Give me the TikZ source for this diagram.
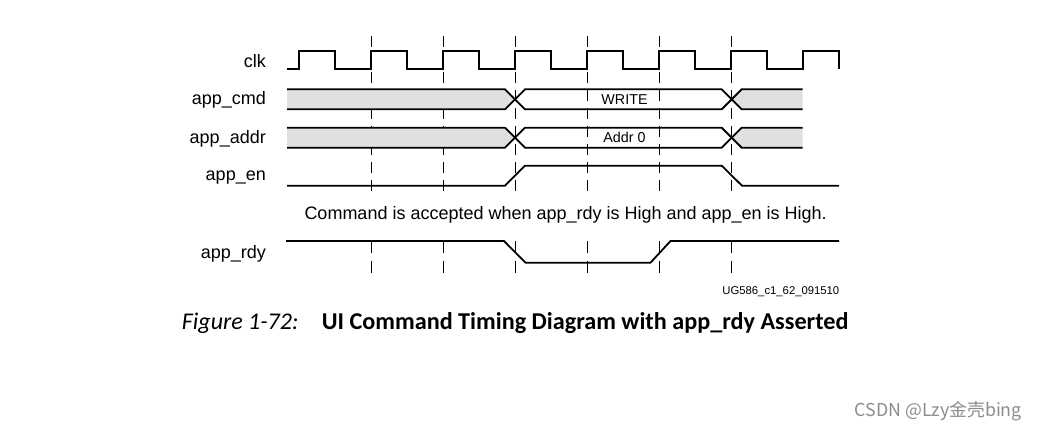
\documentclass[tikz,border=0pt]{standalone}
\usepackage{fontspec}
\setmainfont{Liberation Sans}
\newfontfamily\capfont{Carlito}
\newfontfamily\cjkfont{Noto Sans CJK SC}
\begin{document}
\begin{tikzpicture}[x=1pt,y=-1pt,
  sig/.style={line width=1.8pt,line join=miter,line cap=butt},
  grid/.style={line width=0.9pt,black},
  band/.style={fill=black!12,draw=none},
  lbl/.style={anchor=east,inner sep=0pt,font=\fontsize{18}{20}\selectfont},
  val/.style={inner sep=0pt,font=\fontsize{14.3}{16}\selectfont},
]
\useasboundingbox (0,0) rectangle (1039,430);
\fill[white] (0,0) rectangle (1039,430);

% dashed clock-edge markers
\foreach \xx in {371,443,515,587,659,731}{
  \draw[grid,dash pattern=on 11pt off 7pt] (\xx,36) -- (\xx,192);
  \draw[grid,dash pattern=on 12pt off 8pt] (\xx,241) -- (\xx,274);
}

% labels
\node[lbl] (lclk)  at (266,61)  {clk};
\node[lbl] (lcmd)  at (266,100) {app\_cmd};
\node[lbl] (laddr) at (266,138.5) {app\_addr};
\node[lbl] (len)   at (266,177.5) {app\_en};
\node[lbl] (lrdy)  at (266,253.5) {app\_rdy};

% clock
\draw[sig] (287,69.3)
  \foreach \k in {0,...,7}{ -- ({299+72*\k},69.3) -- ({299+72*\k},50.7) -- ({335+72*\k},50.7) -- ({335+72*\k},69.3)};

% app_cmd and app_addr buses
\foreach \yc/\txt/\nm in {99.3/WRITE/vcmd,137.7/Addr 0/vaddr}{
  \fill[band] (287,\yc-10) -- (505,\yc-10) -- (515,\yc) -- (505,\yc+10) -- (287,\yc+10) -- cycle;
  \fill[band] (802.7,\yc-10) -- (741.7,\yc-10) -- (731.7,\yc) -- (741.7,\yc+10) -- (802.7,\yc+10) -- cycle;
  \draw[sig] (287,\yc-10) -- (505,\yc-10) -- (525,\yc+10) -- (721.7,\yc+10) -- (741.7,\yc-10) -- (802.7,\yc-10);
  \draw[sig] (287,\yc+10) -- (505,\yc+10) -- (525,\yc-10) -- (721.7,\yc-10) -- (741.7,\yc+10) -- (802.7,\yc+10);
  \node[val] (\nm) at (624.5,\yc) {\txt};
}

% app_en
\draw[sig] (287,185.7) -- (505,185.7) -- (525,165.7) -- (721.7,165.7) -- (742,185.7) -- (839,185.7);

% note
\node[anchor=west,inner sep=0pt,font=\fontsize{18}{20}\selectfont] (note) at (304.3,215) {Command is accepted when app\_rdy is High and app\_en is High.};

% app_rdy
\draw[sig] (286,241) -- (504,241) -- (525.5,262.7) -- (650.5,262.7) -- (670.5,241) -- (839,241);

% figure id
\node[anchor=east,inner sep=0pt,font=\fontsize{11.3}{13}\selectfont] (figid) at (839.5,292) {UG586\_c1\_62\_091510};

% caption
\node[anchor=west,inner sep=0pt,font=\capfont\itshape\fontsize{24}{27}\selectfont] (capa) at (181.7,323.5) {Figure 1-72:};
\node[anchor=west,inner sep=0pt,font=\capfont\bfseries\fontsize{24.2}{27}\selectfont] (capb) at (321.7,323.5) {UI Command Timing Diagram with app\_rdy Asserted};

% watermark
\node[anchor=east,inner sep=0pt,text=black!45,font=\cjkfont\fontsize{17.8}{20}\selectfont] (wm) at (1022,411.5) {CSDN @Lzy金壳bing};
\end{tikzpicture}
\end{document}
